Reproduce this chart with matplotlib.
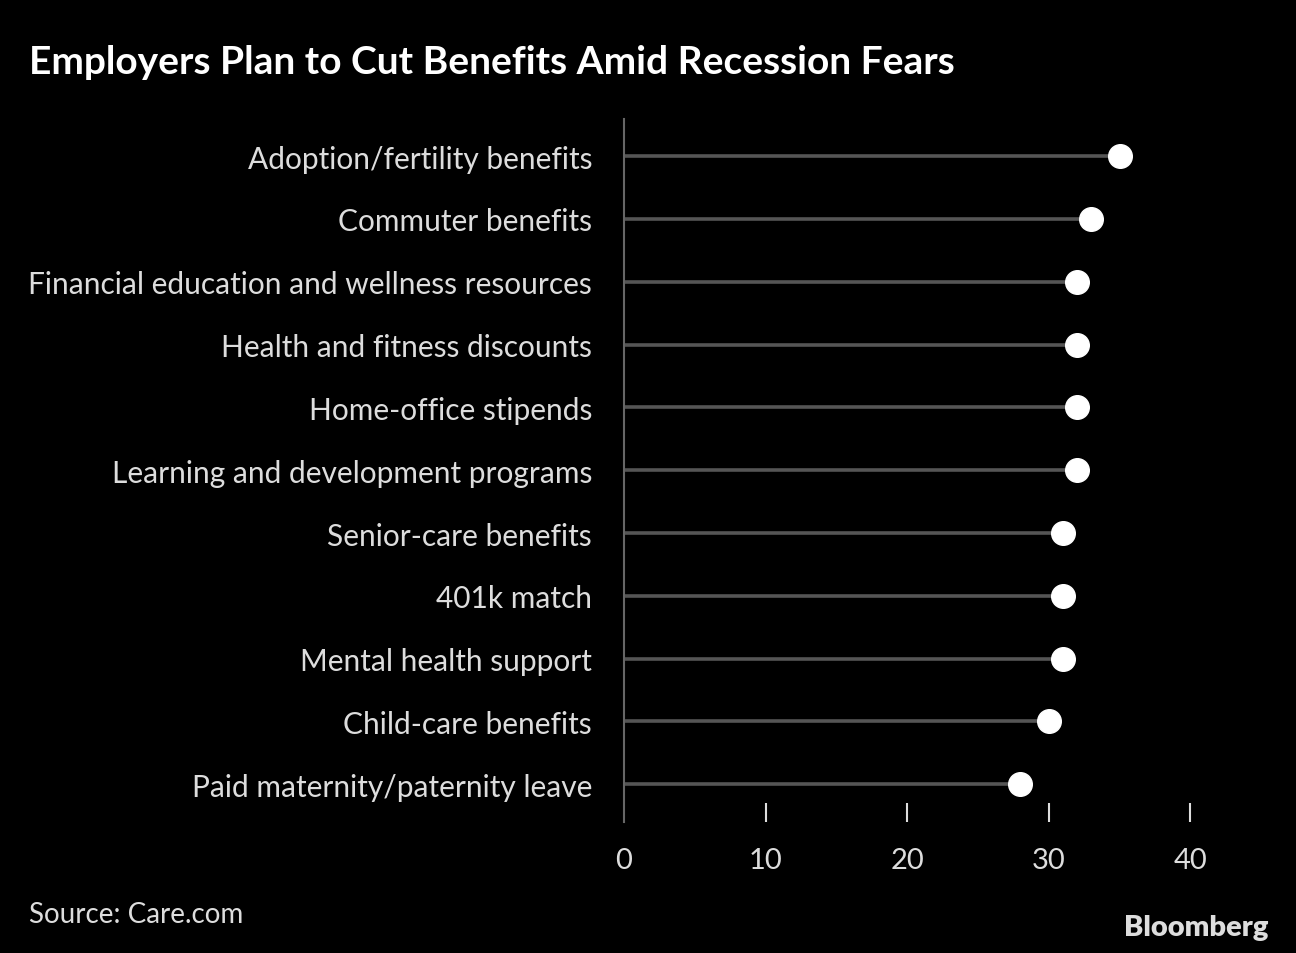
import matplotlib.pyplot as plt

FONT = ['Lato', 'DejaVu Sans']
TITLE = 'Employers Plan to Cut Benefits Amid Recession Fears'

benefits = [
    'Adoption/fertility benefits',
    'Commuter benefits',
    'Financial education and wellness resources',
    'Health and fitness discounts',
    'Home-office stipends',
    'Learning and development programs',
    'Senior-care benefits',
    '401k match',
    'Mental health support',
    'Child-care benefits',
    'Paid maternity/paternity leave',
]
share = [35, 33, 32, 32, 32, 32, 31, 31, 31, 30, 28]
xticks = [0, 10, 20, 30, 40]


def create():
    plt.rcParams['font.family'] = FONT
    fig = plt.figure(figsize=(12.96, 9.54), dpi=100, facecolor='black')
    ax = fig.add_axes([624 / 1296, 1 - 823 / 954, (1247 - 624) / 1296, (823 - 120) / 954])
    ax.set_facecolor('black')

    ypos = list(range(len(benefits)))
    ax.hlines(ypos, 0, share, color='#555555', lw=2.6, zorder=1)
    ax.plot(share, ypos, 'o', color='white', markersize=17, zorder=2)

    ax.set_xlim(0, 44)
    ax.set_ylim(10.6, -0.59)
    ax.set_yticks(ypos)
    ax.set_yticklabels(benefits, fontsize=21.5, color='#dddddd')
    ax.tick_params(axis='y', length=0, pad=23)

    ax.set_xticks(xticks)
    ax.set_xticklabels([str(t) for t in xticks], fontsize=21, color='#dddddd')
    ax.tick_params(axis='x', direction='in', length=14, width=1.5, color='#dddddd', pad=18)
    ax.xaxis.get_major_ticks()[0].tick1line.set_visible(False)

    for s in ['top', 'right', 'bottom']:
        ax.spines[s].set_visible(False)
    ax.spines['left'].set_color('#666666')
    ax.spines['left'].set_linewidth(1.5)

    fig.text(29 / 1296, 1 - 63 / 954, TITLE, fontsize=28, fontweight='bold', color='white', va='center')
    fig.text(29 / 1296, 1 - 915 / 954, 'Source: Care.com', fontsize=20, color='#dddddd', va='center')
    fig.text(1268 / 1296, 1 - 928 / 954, 'Bloomberg', fontsize=21, fontweight='heavy', color='#dddddd',
             va='center', ha='right')

    fig.savefig('out.png', dpi=100, facecolor='black')


if __name__ == "__main__":
    create()
